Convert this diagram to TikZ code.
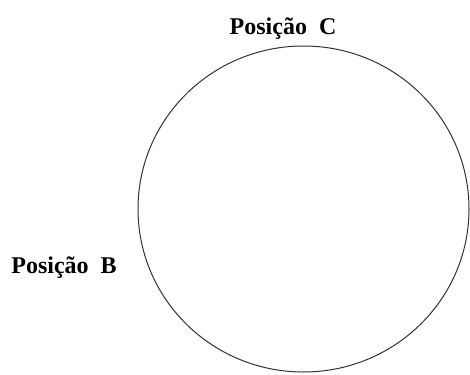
\documentclass[tikz,border=0pt]{standalone}
\usepackage{fontspec}
\setmainfont{Liberation Serif}
\tikzset{rotulo/.style={font=\fontsize{24}{28}\selectfont\bfseries, inner sep=0pt}}
\begin{document}
\begin{tikzpicture}[x=1pt,y=-1pt]
    \useasboundingbox (0,0) rectangle (470,374);
    \draw[line width=1pt, black!80] (303.5,209) ellipse [x radius=165.5pt, y radius=163pt];
    \node[rotulo] (posC) at (283,29) {Posição\ \ C};
    \node[rotulo] (posB) at (64,268) {Posição\ \ B};
  \end{tikzpicture}
\end{document}
